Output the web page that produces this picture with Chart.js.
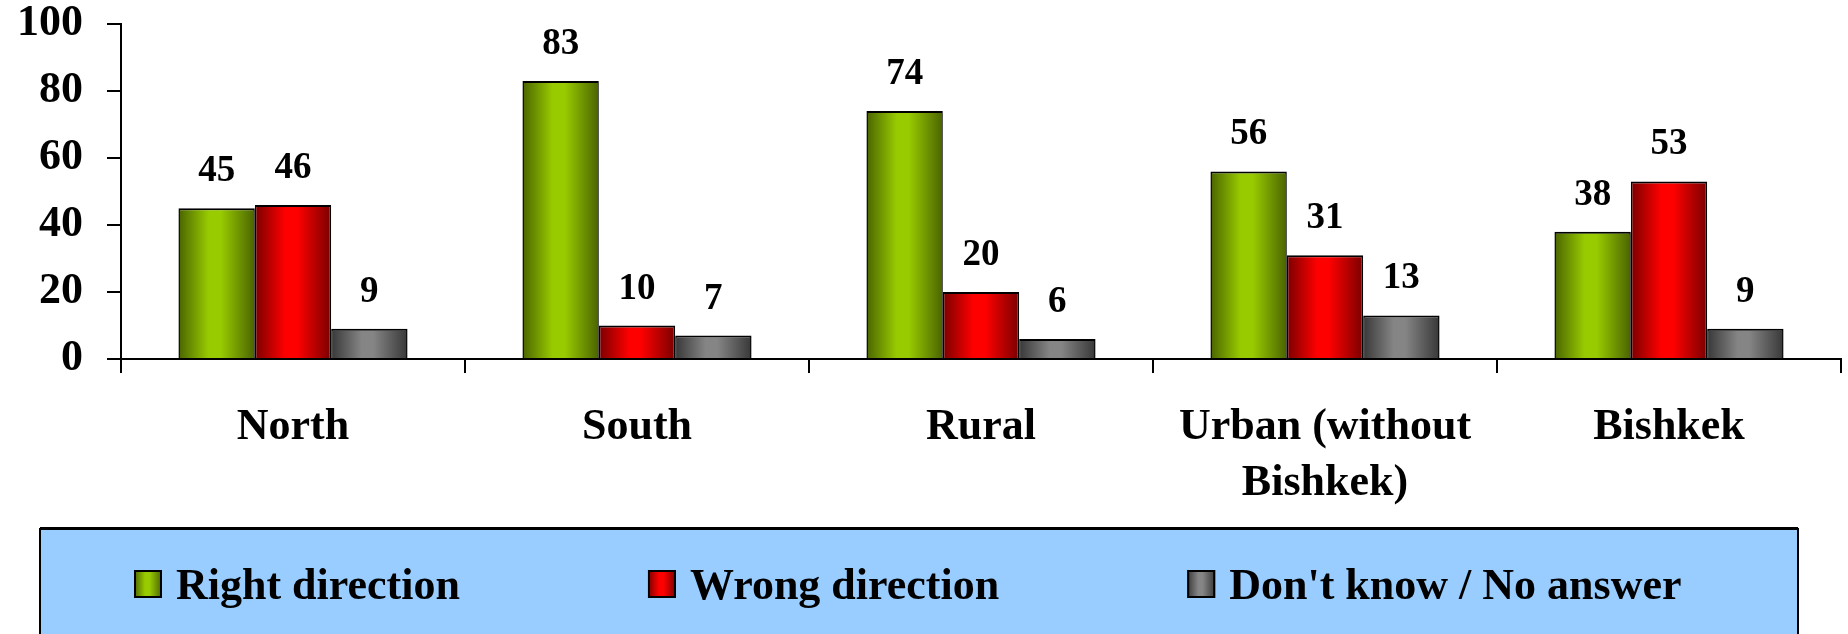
<!DOCTYPE html>
<html>
<head>
<meta charset="utf-8">
<script src="https://cdn.jsdelivr.net/npm/chart.js@4.4.1/dist/chart.umd.min.js"></script>
<style>
  html, body { margin: 0; padding: 0; background: #fff; }
  #wrap { width: 1848px; height: 634px; }
</style>
</head>
<body>
<div id="wrap"><canvas id="chart"></canvas></div>
<script>
// chart data
const categories = ['North', 'South', 'Rural', ['Urban (without', 'Bishkek)'], 'Bishkek'];
const rightDirection = [45, 83, 74, 56, 38];
const wrongDirection = [46, 10, 20, 31, 53];
const dontKnow = [9, 7, 6, 13, 9];
const seriesLabels = ['Right direction', 'Wrong direction', "Don't know / No answer"];
const yTicks = [0, 20, 40, 60, 80, 100];

const FONT = "'Times New Roman', 'Liberation Serif', serif";

// edge colour / middle colour for the cylinder-like fill
const shades = [
    ['#4a6400', '#99cc00'],
    ['#7a0000', '#ff0000'],
    ['#383838', '#858585']
];

function barGradient(ctx, x0, x1, i) {
    const g = ctx.createLinearGradient(x0, 0, x1, 0);
    g.addColorStop(0, shades[i][0]);
    g.addColorStop(0.4, shades[i][1]);
    g.addColorStop(0.55, shades[i][1]);
    g.addColorStop(1, shades[i][0]);
    return g;
}

// put the horizontal gradient on every bar once its position is known
const shadePlugin = {
    id: 'shade',
    beforeDatasetsDraw(chart) {
        const ctx = chart.ctx;
        chart.data.datasets.forEach((ds, i) => {
            chart.getDatasetMeta(i).data.forEach(bar => {
                const w = bar.width;
                bar.options.backgroundColor = barGradient(ctx, bar.x - w / 2, bar.x + w / 2, i);
            });
        });
    }
};

// value labels above the bars
const valuePlugin = {
    id: 'values',
    afterDatasetsDraw(chart) {
        const ctx = chart.ctx;
        ctx.save();
        ctx.font = 'bold 37px ' + FONT;
        ctx.fillStyle = '#000';
        ctx.textAlign = 'center';
        ctx.textBaseline = 'alphabetic';
        chart.data.datasets.forEach((ds, i) => {
            chart.getDatasetMeta(i).data.forEach((bar, j) => {
                ctx.fillText(String(ds.data[j]), bar.x, bar.y - 27);
            });
        });
        ctx.restore();
    }
};

// blue legend panel at the bottom
const legendPlugin = {
    id: 'panelLegend',
    afterDraw(chart) {
        const ctx = chart.ctx;
        ctx.save();
        ctx.fillStyle = '#99ccff';
        ctx.fillRect(40, 528, 1758, 120);
        ctx.strokeStyle = '#000';
        ctx.lineWidth = 2;
        ctx.strokeRect(40, 529, 1758, 120);
        ctx.lineWidth = 3;
        ctx.beginPath();
        ctx.moveTo(40, 528.5);
        ctx.lineTo(1798, 528.5);
        ctx.stroke();

        ctx.font = 'bold 44px ' + FONT;
        ctx.textBaseline = 'alphabetic';
        ctx.textAlign = 'left';
        let x = 134;
        chart.data.datasets.forEach((ds, i) => {
            ctx.fillStyle = barGradient(ctx, x, x + 28, i);
            ctx.fillRect(x, 570, 28, 28);
            ctx.lineWidth = 2;
            ctx.strokeStyle = '#000';
            ctx.strokeRect(x + 1, 571, 26, 26);
            ctx.fillStyle = '#000';
            ctx.fillText(ds.label, x + 42, 599);
            x += 42 + ctx.measureText(ds.label).width + 188;
        });
        ctx.restore();
    }
};

const allSeries = [rightDirection, wrongDirection, dontKnow];

new Chart(document.getElementById('chart'), {
    type: 'bar',
    data: {
        labels: categories,
        datasets: allSeries.map((values, i) => ({
            label: seriesLabels[i],
            data: values,
            backgroundColor: () => shades[i][1],
            borderColor: '#000',
            borderWidth: { top: 2, left: 1.5, right: 1.5, bottom: 0 },
            borderSkipped: false,
            categoryPercentage: 0.666,
            barPercentage: 1.0
        }))
    },
    options: {
        responsive: true,
        maintainAspectRatio: false,
        animation: false,
        layout: { padding: { top: 24, right: 7, bottom: 102, left: 0 } },
        plugins: {
            legend: { display: false },
            tooltip: { enabled: false }
        },
        scales: {
            x: {
                ticks: {
                    font: { family: FONT, size: 44, weight: 'bold', lineHeight: 1.27 },
                    color: '#000',
                    padding: 27,
                    maxRotation: 0,
                    autoSkip: false
                },
                grid: { drawOnChartArea: false, offset: true, tickLength: 14, color: '#000', lineWidth: 2 },
                border: { color: '#000', width: 2 },
                afterFit: (s) => { s.height = 173; }
            },
            y: {
                min: 0,
                max: 100,
                afterBuildTicks: (s) => { s.ticks = yTicks.map(v => ({ value: v })); },
                ticks: {
                    font: { family: FONT, size: 44, weight: 'bold', lineHeight: 1 },
                    color: '#000',
                    padding: 24
                },
                grid: { drawOnChartArea: false, tickLength: 14, color: '#000', lineWidth: 2 },
                border: { color: '#000', width: 2 },
                afterFit: (s) => {
                    s.width = 121;
                    // the top label may stick out above the plot, as in the original
                    s.paddingTop = 0;
                    s.paddingBottom = 0;
                }
            }
        }
    },
    plugins: [shadePlugin, valuePlugin, legendPlugin]
});
</script>
</body>
</html>
